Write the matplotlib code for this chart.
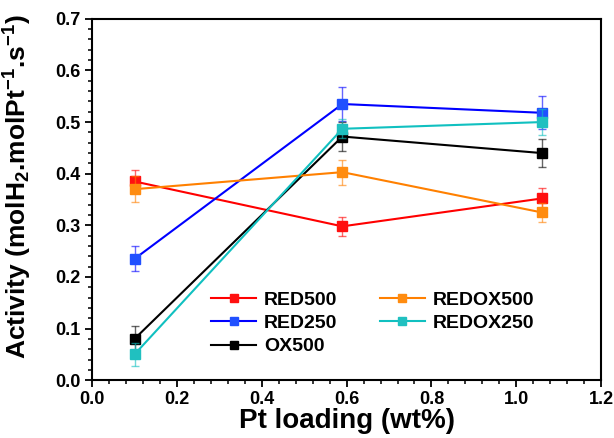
import matplotlib.pyplot as plt
from matplotlib.ticker import MultipleLocator

plt.rcParams['font.family'] = ['Liberation Sans', 'DejaVu Sans']
plt.rcParams['font.weight'] = 'bold'
plt.rcParams['mathtext.fontset'] = 'custom'
plt.rcParams['mathtext.rm'] = 'Liberation Sans:bold'
plt.rcParams['mathtext.bf'] = 'Liberation Sans:bold'
plt.rcParams['mathtext.default'] = 'bf'

pt_loading = [0.10, 0.59, 1.06]

red500 = [0.385, 0.298, 0.352]
red500_err = [0.023, 0.018, 0.021]
red250 = [0.235, 0.535, 0.518]
red250_err = [0.024, 0.032, 0.032]
redox500 = [0.370, 0.403, 0.325]
redox500_err = [0.025, 0.024, 0.019]
redox250 = [0.050, 0.487, 0.500]
redox250_err = [0.022, 0.018, 0.025]
ox500 = [0.080, 0.472, 0.440]
ox500_err = [0.025, 0.028, 0.027]

series = [
    ('RED500', red500, red500_err, '#ff0000', '#ff1010'),
    ('RED250', red250, red250_err, '#0000ff', '#2050ff'),
    ('OX500', ox500, ox500_err, '#000000', '#000000'),
    ('REDOX500', redox500, redox500_err, '#ff8000', '#ff8c10'),
    ('REDOX250', redox250, redox250_err, '#10c0c0', '#20c0c0'),
]

fig = plt.figure(figsize=(6.14, 4.38), dpi=100)
ax = fig.add_axes([0.150, 0.132, 0.829, 0.825])

for name, y, err, col, mcol in series:
    # error bars drawn lighter, like the original
    ax.errorbar(pt_loading, y, yerr=err, fmt='none', ecolor=col, elinewidth=1,
                capsize=3, capthick=1, alpha=0.6)
    ax.plot(pt_loading, y, color=col, lw=1.5, marker='s', markersize=7,
            mfc=mcol, mec=mcol, label=name)

ax.set_xlim(0, 1.2)
ax.set_ylim(0, 0.7)
ax.xaxis.set_major_locator(MultipleLocator(0.2))
ax.xaxis.set_minor_locator(MultipleLocator(0.04))
ax.yaxis.set_major_locator(MultipleLocator(0.1))
ax.yaxis.set_minor_locator(MultipleLocator(0.02))
ax.tick_params(which='major', direction='out', length=5, width=1.3, labelsize=13, pad=3)
ax.tick_params(which='minor', direction='out', length=3, width=1.1)
for s in ax.spines.values():
    s.set_linewidth(1.5)

ax.set_xlabel('Pt loading (wt%)', fontsize=20, fontweight='bold', labelpad=0)
ax.set_ylabel('Activity (molH$_2$.molPt$^{-1}$.s$^{-1}$)', fontsize=19,
              fontweight='bold', labelpad=2)
ax.yaxis.set_label_coords(-0.115, 0.535)

ax.legend(ncol=2, frameon=False, fontsize=14, loc='lower left',
          bbox_to_anchor=(0.2, 0.02), handlelength=2.3, columnspacing=2.2,
          labelspacing=0.3, handletextpad=0.4, markerscale=0.85)

fig.savefig('out.png', dpi=100)
